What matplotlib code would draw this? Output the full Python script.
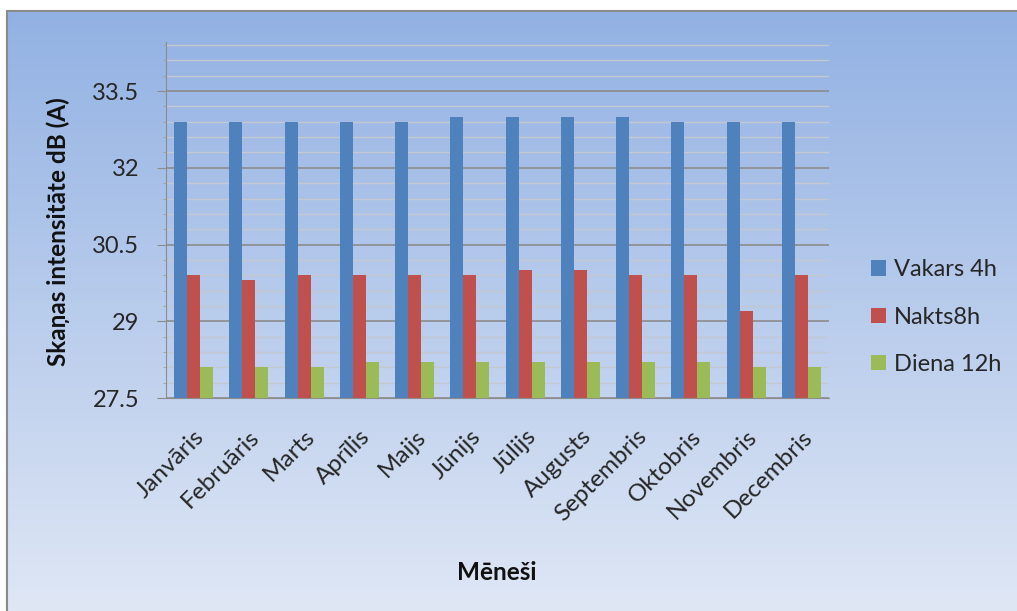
import numpy as np
import matplotlib
matplotlib.use("Agg")
import matplotlib.pyplot as plt
from matplotlib.ticker import MultipleLocator, AutoMinorLocator, FormatStrFormatter
from matplotlib.patches import Patch

months = ["Janvāris", "Februāris", "Marts", "Aprīlis", "Maijs", "Jūnijs",
          "Jūlijs", "Augusts", "Septembris", "Oktobris", "Novembris", "Decembris"]
vakars = [32.9, 32.9, 32.9, 32.9, 32.9, 33.0, 33.0, 33.0, 33.0, 32.9, 32.9, 32.9]
nakts = [29.9, 29.8, 29.9, 29.9, 29.9, 29.9, 30.0, 30.0, 29.9, 29.9, 29.2, 29.9]
diena = [28.1, 28.1, 28.1, 28.2, 28.2, 28.2, 28.2, 28.2, 28.2, 28.2, 28.1, 28.1]
series_names = ["Vakars 4h", "Nakts8h", "Diena 12h"]
colors = ["#4F81BD", "#C0504D", "#9BBB59"]

plt.rcParams['font.family'] = ['Lato', 'DejaVu Sans']
txt = "#262626"

fig = plt.figure(figsize=(10.17, 6.11), dpi=100)
fig.patch.set_facecolor("white")

# chart area with vertical gradient
bg = fig.add_axes([7 / 1017, 0, 1 - 7 / 1017, 1 - 11 / 611])
top = np.array([0x92, 0xB1, 0xE3]) / 255
bot = np.array([0xDF, 0xE7, 0xF5]) / 255
t = np.linspace(0, 1, 256)[:, None]
grad = (top * (1 - t) + bot * t)[:, None, :].repeat(2, axis=1)
bg.imshow(grad, aspect="auto", extent=[0, 1, 0, 1])
bg.set_xticks([])
bg.set_yticks([])
for s in bg.spines.values():
    s.set_color("#8a8a8a")
    s.set_linewidth(1.5)
bg.spines["right"].set_visible(False)
bg.spines["bottom"].set_visible(False)

ax = fig.add_axes([166 / 1017, 1 - 398 / 611, (829 - 166) / 1017, (398 - 42) / 611])
ax.patch.set_alpha(0)

x = np.arange(len(months))
w = 0.235
data = [vakars, nakts, diena]
for i, (vals, c) in enumerate(zip(data, colors)):
    ax.bar(x + (i - 1) * w, np.array(vals) - 27.5, bottom=27.5, width=w,
           color=c, zorder=3)

ax.set_xlim(-0.5, len(months) - 0.5)
ax.set_ylim(27.5, 34.46)
ax.yaxis.set_major_locator(MultipleLocator(1.5, offset=27.5))
ax.yaxis.set_minor_locator(AutoMinorLocator(5))
ax.yaxis.set_major_formatter(FormatStrFormatter("%g"))
ax.grid(axis="y", which="major", color="#8c8c8c", lw=1.2, zorder=1)
ax.grid(axis="y", which="minor", color="#c4c8d0", lw=1.0, zorder=1)

for s in ["top", "right"]:
    ax.spines[s].set_visible(False)
ax.spines["left"].set_color("#8c8c8c")
ax.spines["bottom"].set_color("#8c8c8c")
ax.tick_params(axis="y", which="major", length=6.3, color="#8c8c8c",
               labelsize=17, labelcolor=txt, pad=13)
ax.tick_params(axis="y", which="minor", length=2.5, color="#a0a0a0")

ax.set_xticks(x)
ax.set_xticklabels(months, rotation=45, ha="right", va="top",
                   rotation_mode="anchor", fontsize=17.5, color=txt)
ax.tick_params(axis="x", length=0, pad=20)

fig.text(58 / 1017, 1 - 232 / 611, "Skaņas intensitāte dB (A)", fontsize=17.5,
         fontweight="bold", rotation=90, ha="center", va="center", color="#111111")
fig.text(497 / 1017, 1 - 572 / 611, "Mēneši", fontsize=17.5, fontweight="bold",
         ha="center", va="center", color="#111111")

handles = [Patch(facecolor=c, label=n) for c, n in zip(colors, series_names)]
fig.legend(handles=handles, loc="upper left", bbox_to_anchor=(850 / 1017, 1 - 238 / 611),
           frameon=False, fontsize=17, handlelength=0.62, handleheight=0.62,
           handletextpad=0.35, labelspacing=1.12, labelcolor=txt)

fig.savefig("out.png", dpi=100)
